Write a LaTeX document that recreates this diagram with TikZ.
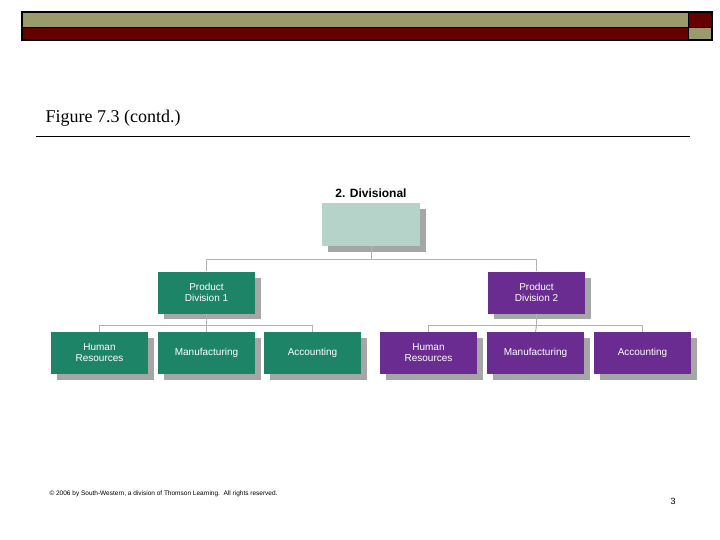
\documentclass[tikz,border=0pt]{standalone}
\usepackage{fontspec}
\setmainfont{Liberation Serif}
\newfontfamily\arial{Liberation Sans}
\definecolor{olive}{HTML}{9A9A6A}
\definecolor{maroon}{HTML}{640000}
\definecolor{grn}{HTML}{1E8467}
\definecolor{prp}{HTML}{6A2C91}
\definecolor{pale}{HTML}{B5D3C9}
\begin{document}
\begin{tikzpicture}[x=1pt,y=-1pt,
  box/.style={minimum width=97pt,minimum height=42pt,inner sep=0pt,text=white,font=\arial\fontsize{10}{11}\selectfont,align=center,
    append after command={}},
  shad/.style={fill=gray!70},
  conn/.style={draw=gray!60,line width=1pt}]
\useasboundingbox (0,0) rectangle (720,540);
% top bar
\fill[olive] (22,12) rectangle (688,28);
\fill[maroon] (22,28) rectangle (688,40);
\fill[maroon] (688,12) rectangle (712,28);
\fill[olive] (688,28) rectangle (712,40);
\draw[line width=1.2pt] (22,12) rectangle (712,40);
\draw[line width=1pt] (22,28) -- (712,28) (688,12) -- (688,40);
\node[anchor=west,font=\fontsize{18}{20}\selectfont] (title) at (42,118) {Figure 7.3 (contd.)};
\draw[line width=1pt] (36,137) -- (690,137);
\node[font=\arial\bfseries\fontsize{12}{14}\selectfont] (head) at (371,193) {2. Divisional};
% shadows
\foreach \x/\y/\w/\h in {322/203/98/43,158/272/97/41,488/272/97/41,51/332/97/42,158/332/97/42,264/332/97/42,380/332/97/42,487/332/97/42,594/332/97/42}
  \fill[shad] (\x+6,\y+6) rectangle (\x+\w+6,\y+\h+6);
\node[box,fill=pale,minimum width=98pt,minimum height=43pt] (top) at (371,224.5) {};
\node[box,fill=grn] (p1) at (206.5,292.5) {Product\\Division 1};
\node[box,fill=prp] (p2) at (536.5,292.5) {Product\\Division 2};
\node[box,fill=grn] (a1) at (99.5,353) {Human\\Resources};
\node[box,fill=grn] (a2) at (206.5,353) {Manufacturing};
\node[box,fill=grn] (a3) at (312.5,353) {Accounting};
\node[box,fill=prp] (b1) at (428.5,353) {Human\\Resources};
\node[box,fill=prp] (b2) at (535.5,353) {Manufacturing};
\node[box,fill=prp] (b3) at (642.5,353) {Accounting};
\draw[conn] (top.south) -- ++(0,13) coordinate (j);
\draw[conn] (p1.north) |- (j) -| (p2.north);
\draw[conn] (p1.south) -- ++(0,12) coordinate (k);
\draw[conn] (a1.north) |- (k) -| (a3.north);
\draw[conn] (k) -- (a2.north);
\draw[conn] (p2.south) -- ++(0,12) coordinate (m);
\draw[conn] (b1.north) |- (m) -| (b3.north);
\draw[conn] (m) -- (b2.north);
\node[anchor=west,font=\arial\fontsize{6.5}{7}\selectfont] (copy) at (46,494) {© 2006 by South-Western, a division of Thomson Learning.\ \ All rights reserved.};
\node[font=\arial\fontsize{9}{10}\selectfont] (pg) at (673,501) {3};
\end{tikzpicture}
\end{document}
